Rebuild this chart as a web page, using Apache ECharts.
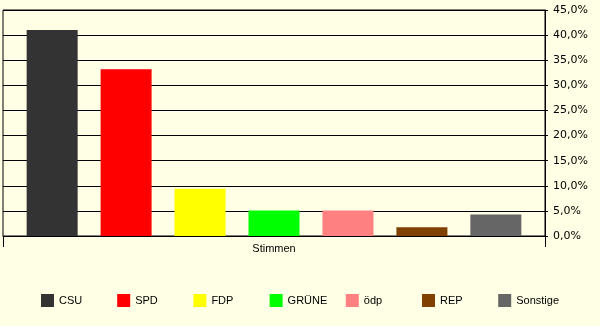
<!DOCTYPE html>
<html>
<head>
<meta charset="utf-8">
<script src="https://cdn.jsdelivr.net/npm/echarts@6/dist/echarts.min.js"></script>
<style>
html,body{margin:0;padding:0;background:#FFFFE5;}
#c{width:600px;height:326px;}
</style>
</head>
<body>
<div id="c"></div>
<script>
const categories = ['Stimmen'];
const parties = ['CSU', 'SPD', 'FDP', 'GRÜNE', 'ödp', 'REP', 'Sonstige'];
const values = [41.0, 33.2, 9.4, 5.1, 5.1, 1.75, 4.3];
const colors = ['#333333', '#FF0000', '#FFFF00', '#00FF00', '#FF8080', '#804000', '#666666'];
const yTicks = [0, 5, 10, 15, 20, 25, 30, 35, 40, 45];

const chart = echarts.init(document.getElementById('c'), null, {renderer: 'canvas'});

const series = parties.map((p, i) => ({
  name: p,
  type: 'bar',
  data: [values[i]],
  barWidth: 51,
  barGap: '45%',
  itemStyle: {color: colors[i]},
  animation: false
}));

const legends = parties.map((p, i) => ({
  data: [p],
  left: 41 + i * 76.2,
  top: 294,
  icon: 'rect',
  itemWidth: 13,
  itemHeight: 13,
  padding: 0,
  selectedMode: false,
  textStyle: {fontFamily: 'Liberation Sans', fontSize: 11, color: '#000'}
}));

chart.setOption({
  backgroundColor: '#FFFFE5',
  animation: false,
  grid: {
    left: 3, right: 55, top: 10, bottom: 90,
    show: true, borderColor: '#000', borderWidth: 1,
    backgroundColor: 'transparent'
  },
  legend: legends,
  xAxis: {
    type: 'category',
    data: categories,
    axisLine: {show: true, lineStyle: {color: '#000', width: 1}},
    axisTick: {show: true, length: 11, lineStyle: {color: '#000'}},
    axisLabel: {fontFamily: 'Liberation Sans', fontSize: 11, color: '#000', margin: 7}
  },
  yAxis: {
    type: 'value',
    position: 'right',
    min: yTicks[0],
    max: yTicks[yTicks.length - 1],
    interval: 5,
    axisLine: {show: true, lineStyle: {color: '#000', width: 1}},
    axisTick: {show: true, length: 3, lineStyle: {color: '#000'}},
    splitLine: {show: true, lineStyle: {color: '#000', width: 1}},
    axisLabel: {
      fontFamily: 'DejaVu Sans', fontSize: 11, color: '#000', margin: 8,
      formatter: v => v.toFixed(1).replace('.', ',') + '%'
    }
  },
  series: series
});
</script>
</body>
</html>
